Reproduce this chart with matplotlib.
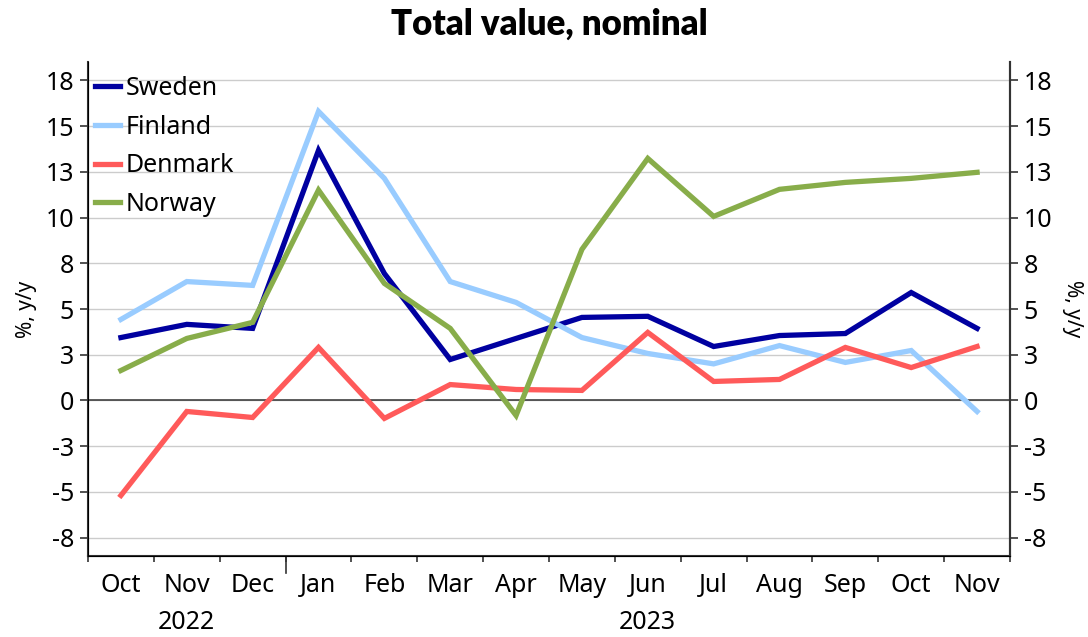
import matplotlib
matplotlib.use('Agg')
import matplotlib.pyplot as plt
from matplotlib.transforms import blended_transform_factory

plt.rcParams['font.family'] = ['Noto Sans', 'DejaVu Sans']

months = ['Oct', 'Nov', 'Dec', 'Jan', 'Feb', 'Mar', 'Apr', 'May', 'Jun', 'Jul', 'Aug', 'Sep', 'Oct', 'Nov']
years = {1: '2022', 8: '2023'}

sweden = [3.44, 4.16, 3.94, 13.67, 6.94, 2.24, 3.39, 4.54, 4.6, 2.95, 3.55, 3.66, 5.9, 3.94]
finland = [4.43, 6.5, 6.29, 15.8, 12.14, 6.5, 5.36, 3.44, 2.57, 2.0, 3.0, 2.08, 2.73, -0.6]
denmark = [-5.19, -0.6, -0.93, 2.9, -0.98, 0.87, 0.6, 0.55, 3.72, 1.04, 1.15, 2.9, 1.8, 2.95]
norway = [1.64, 3.39, 4.27, 11.5, 6.4, 3.94, -0.82, 8.26, 13.23, 10.06, 11.54, 11.92, 12.14, 12.47]

series = [('Sweden', sweden, '#0000A0'),
          ('Finland', finland, '#99CCFF'),
          ('Denmark', denmark, '#FF5A5A'),
          ('Norway', norway, '#88AD4A')]

yticks = [-7.5, -5, -2.5, 0, 2.5, 5, 7.5, 10, 12.5, 15, 17.5]
ylabels = ['-8', '-5', '-3', '0', '3', '5', '8', '10', '13', '15', '18']

fig = plt.figure(figsize=(10.88, 6.37), dpi=100)
ax = fig.add_axes([88/1088, 1-556/637, (1010-88)/1088, (556-62)/637])

x = list(range(len(months)))
for name, vals, col in series:
    ax.plot(x, vals, color=col, lw=3.8, label=name, solid_joinstyle='miter', zorder=3)

ax.axhline(0, color='#333333', lw=1.1, zorder=2)
ax.set_ylim(-8.5, 18.5)
ax.set_xlim(-0.5, len(months) - 0.5)
ax.set_yticks(yticks)
ax.set_yticklabels(ylabels)
ax.grid(axis='y', color='#CCCCCC', lw=1.0, zorder=0)
ax.set_axisbelow(True)

# category boundaries as ticks, labels at centres
ax.set_xticks([i - 0.5 for i in range(len(months) + 1)])
ax.set_xticklabels([])
ax.tick_params(axis='x', which='major', direction='out', length=4, width=1.2, color='#333333')
ax.set_xticks(x, minor=True)
ax.set_xticklabels(months, minor=True)
ax.tick_params(axis='x', which='minor', length=0, pad=12, labelsize=18)
ax.tick_params(axis='y', direction='out', length=6, width=1.2, color='#333333', labelsize=18, pad=4)

# longer tick at the year boundary
trans = blended_transform_factory(ax.transData, ax.transAxes)
ax.plot([2.5, 2.5], [0, -0.035], transform=trans, color='#333333', lw=1.2, clip_on=False)

for i, yr in years.items():
    ax.text(i, -0.134, yr, transform=trans, ha='center', va='center', fontsize=18)

ax.spines['top'].set_visible(False)
for s in ['left', 'bottom', 'right']:
    ax.spines[s].set_color('#333333')
    ax.spines[s].set_linewidth(1.5)

ax2 = ax.twinx()
ax2.set_ylim(ax.get_ylim())
ax2.set_yticks(yticks)
ax2.set_yticklabels(ylabels)
ax2.tick_params(axis='y', direction='out', length=6, width=1.2, color='#333333', labelsize=18, pad=4)
ax2.spines['top'].set_visible(False)
ax2.spines['right'].set_color('#333333')
ax2.spines['right'].set_linewidth(1.5)
ax2.set_ylabel('%, y/y', fontsize=15, rotation=270, labelpad=22)
ax.set_ylabel('%, y/y', fontsize=15, labelpad=6)

ax.legend(loc='upper left', bbox_to_anchor=(0.002, 0.982), frameon=False, fontsize=18,
          handlelength=1.0, handletextpad=0.25, labelspacing=0.55, borderaxespad=0, borderpad=0.2)

fig.text(0.505, 0.962, 'Total value, nominal', ha='center', va='center', fontsize=25,
         fontweight='heavy', family=['Lato', 'DejaVu Sans'])

fig.savefig('out.png', dpi=100)
